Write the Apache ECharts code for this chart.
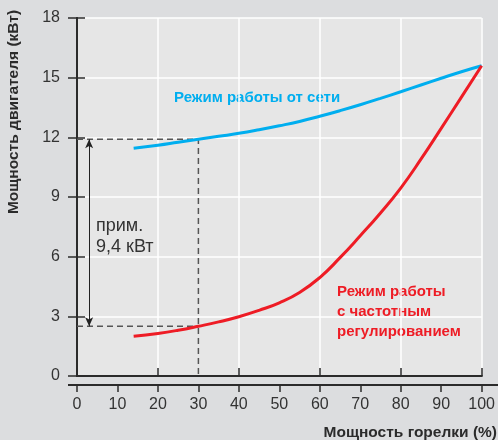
<!DOCTYPE html>
<html>
<head>
<meta charset="utf-8">
<script src="https://cdn.jsdelivr.net/npm/echarts@6/dist/echarts.min.js"></script>
<style>
html,body{margin:0;padding:0;background:#dcdddf;}
#c{width:498px;height:440px;}
</style>
</head>
<body>
<div id="c"></div>
<script>
// Data
const gridX = [14, 20, 25, 30, 35, 40, 45, 50, 55, 60, 65, 70, 75, 80, 85, 90, 95, 100];
const mainsPower = [11.45, 11.6, 11.75, 11.9, 12.05, 12.2, 12.38, 12.58, 12.8, 13.06, 13.34, 13.64, 13.96, 14.29, 14.63, 14.97, 15.3, 15.6];
const vfdPower = [2.0, 2.14, 2.3, 2.5, 2.72, 2.98, 3.3, 3.68, 4.2, 4.95, 5.95, 7.05, 8.2, 9.45, 10.9, 12.45, 14.02, 15.6];
const refLoad = 30;
const refMains = 11.9;
const refVfd = 2.5;
const arrowX = 3;
const xTicks = [0, 10, 20, 30, 40, 50, 60, 70, 80, 90, 100];
const yTicks = [0, 3, 6, 9, 12, 15, 18];

const labelMains = 'Режим работы от сети';
const labelVfd = 'Режим работы\nс частотным\nрегулированием';
const labelDiff = 'прим.\n9,4 кВт';
const xTitle = 'Мощность горелки (%)';
const yTitle = 'Мощность двигателя (кВт)';

const FONT = '"Liberation Sans", Arial, sans-serif';
const AX = '#2b2b2b';
const chart = echarts.init(document.getElementById('c'));

function pairs(xs, ys){ return xs.map((x,i)=>[x, ys[i]]); }

const option = {
  backgroundColor: '#dcdddf',
  animation: false,
  grid: {left: 77, right: 16, top: 18, bottom: 64, show: true, backgroundColor: '#e6e6e6', borderWidth: 0},
  xAxis: [
    {type: 'value', min: 0, max: 100, interval: 20, position: 'bottom',
     axisLine: {show: true, lineStyle: {color: AX, width: 2}}, axisTick: {show: false}, axisLabel: {show: false},
     splitLine: {show: true, lineStyle: {color: '#ffffff', width: 1.5}}},
    {type: 'value', min: 0, max: 100, interval: 20, position: 'top',
     axisLine: {show: true, lineStyle: {color: AX, width: 2}}, axisTick: {show: true, inside: false, length: 8, lineStyle: {color: AX, width: 1.5}},
     axisLabel: {show: false}, splitLine: {show: false}},
    {type: 'value', min: xTicks[0], max: xTicks[xTicks.length-1], interval: 10, position: 'bottom', offset: 9,
     axisLine: {show: false}, axisTick: {show: true, length: 7, lineStyle: {color: AX, width: 1.5}},
     axisLabel: {show: true, fontSize: 16, color: '#333', fontFamily: FONT, margin: 12},
     splitLine: {show: false}}
  ],
  yAxis: [
    {type: 'value', min: yTicks[0], max: yTicks[yTicks.length-1], interval: 3, position: 'left',
     axisLine: {show: true, lineStyle: {color: AX, width: 2}}, axisTick: {show: true, length: 9, lineStyle: {color: AX, width: 1.5}},
     axisLabel: {show: true, fontSize: 16, color: '#333', fontFamily: FONT, margin: 17},
     splitLine: {show: true, lineStyle: {color: '#ffffff', width: 1.5}}},
    {type: 'value', min: 0, max: 18, interval: 3, position: 'right',
     axisLine: {show: true, lineStyle: {color: AX, width: 2}}, axisTick: {show: true, length: 8, lineStyle: {color: AX, width: 1.5}},
     axisLabel: {show: false}, splitLine: {show: false}}
  ],
  series: [
    {type: 'line', name: 'dash1', data: [[0, refMains], [refLoad, refMains], [refLoad, 0]], symbol: 'none',
     lineStyle: {color: '#555', width: 1.5, type: [6, 4]}, z: 3},
    {type: 'line', name: 'dash2', data: [[0, refVfd], [refLoad, refVfd]], symbol: 'none',
     lineStyle: {color: '#555', width: 1.5, type: [6, 4]}, z: 3},
    {type: 'line', name: 'arrow', data: [], symbol: 'none',
     markLine: {silent: true, symbol: ['arrow', 'arrow'], symbolSize: [6, 9],
       lineStyle: {color: '#222', width: 1, type: 'solid'}, label: {show: false},
       data: [[{coord: [arrowX, refMains]}, {coord: [arrowX, refVfd]}]]}},
    {type: 'line', name: 'mains', data: pairs(gridX, mainsPower), smooth: 0.5, symbol: 'none',
     lineStyle: {color: '#00aeef', width: 3}, z: 5},
    {type: 'line', name: 'vfd', data: pairs(gridX, vfdPower), smooth: 0.5, symbol: 'none',
     lineStyle: {color: '#ee1c25', width: 3}, z: 5}
  ],
  graphic: [
    {type: 'line', shape: {x1: 68, y1: 385, x2: 498, y2: 385}, style: {stroke: AX, lineWidth: 2}},
    {type: 'text', x: 174, y: 98, style: {text: labelMains, fill: '#00aeef', font: 'bold 15px ' + FONT, verticalAlign: 'middle'}},
    {type: 'text', x: 337, y: 312, style: {text: labelVfd, fill: '#ee1c25', font: 'bold 15px ' + FONT, lineHeight: 20, verticalAlign: 'middle'}},
    {type: 'text', x: 96, y: 237, style: {text: labelDiff, fill: '#333', font: '18px ' + FONT, lineHeight: 21, verticalAlign: 'middle'}},
    {type: 'text', x: 497, y: 433, style: {text: xTitle, fill: '#2b2b2b', font: 'bold 15.5px ' + FONT, align: 'right', verticalAlign: 'middle'}},
    {type: 'text', x: 14, y: 112, rotation: Math.PI / 2,
     style: {text: yTitle, fill: '#2b2b2b', font: 'bold 15.5px ' + FONT, align: 'center', verticalAlign: 'middle'}}
  ]
};
chart.setOption(option);
</script>
</body>
</html>
